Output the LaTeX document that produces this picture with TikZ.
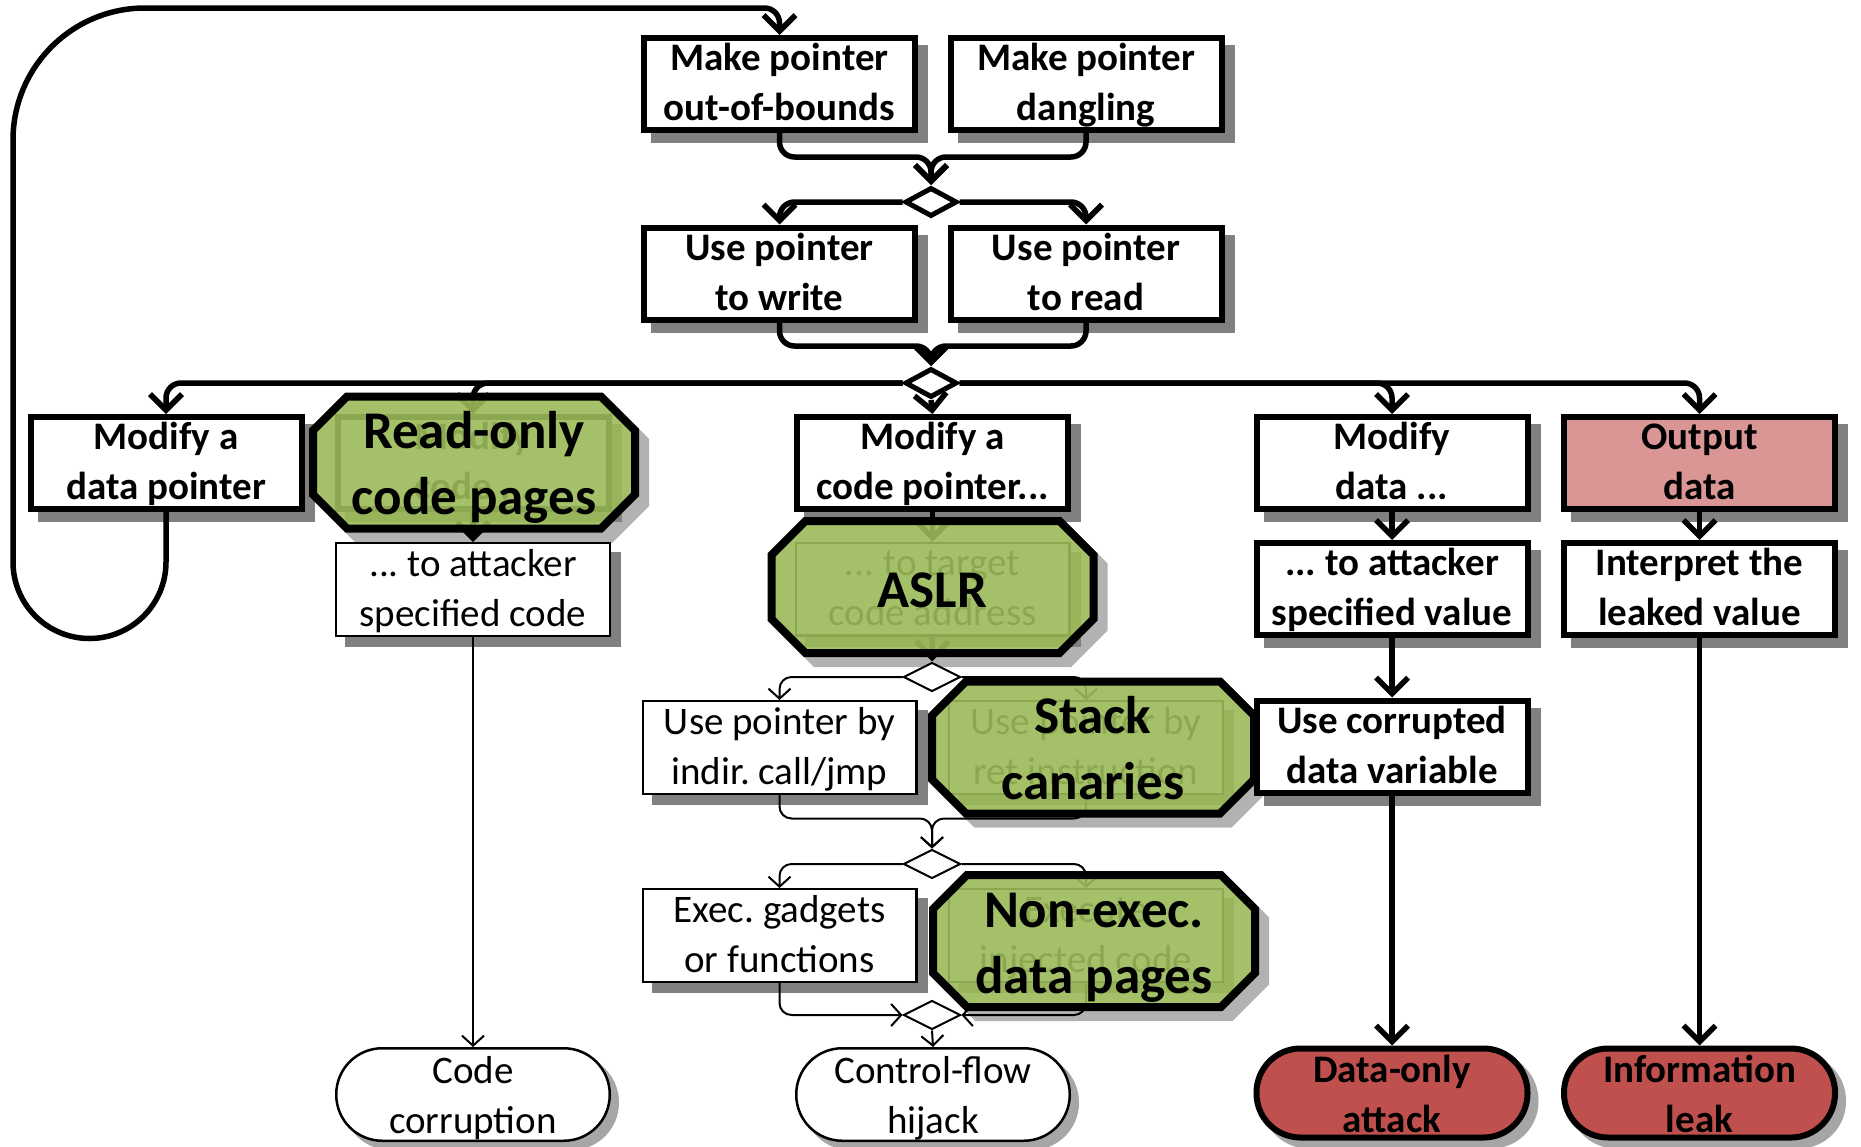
\documentclass[tikz,border=0pt]{standalone}
\usepackage{fontspec}
\setmainfont{Carlito}
\frenchspacing
\usetikzlibrary{arrows.meta,shapes.geometric}

\definecolor{octgreen}{HTML}{9BBB59}
\definecolor{leakred}{HTML}{C0504D}
\definecolor{outpink}{HTML}{D99694}
\definecolor{shadowgray}{HTML}{808080}

\tikzset{
  boxfont/.style={font=\bfseries\fontsize{19.5}{25}\selectfont},
  thinfont/.style={font=\fontsize{19.5}{25}\selectfont},
  boxshadow/.style={preaction={draw=shadowgray,fill=shadowgray,transform canvas={xshift=5pt,yshift=-5pt}}},
  softshadow/.style={preaction={draw=black!35,fill=black!35,transform canvas={xshift=4pt,yshift=-4pt}}},
  stepbox/.style={draw,line width=3pt,fill=white,minimum width=135.5pt,minimum height=46pt,
    inner sep=0pt,align=center,boxfont,boxshadow,text height=40pt,text depth=3.2pt},
  thinbox/.style={draw,line width=1.2pt,fill=white,minimum width=136.8pt,minimum height=46.3pt,
    inner sep=0pt,align=center,thinfont,boxshadow,text height=40pt,text depth=3.2pt},
  endbox/.style={draw,rounded corners=23pt,line width=1.25pt,fill=white,minimum width=136.75pt,
    minimum height=46.25pt,inner sep=0pt,align=center,thinfont,softshadow,
    text height=42.5pt,text depth=3.3pt},
  attackend/.style={endbox,line width=3pt,fill=leakred,boxfont,rounded corners=22pt,
    minimum width=135.5pt,minimum height=44.5pt,text height=41.5pt,text depth=2.5pt},
  junction/.style={diamond,draw,line width=2.5pt,fill=white,minimum width=26pt,minimum height=14.5pt,inner sep=0pt},
  thinjunction/.style={junction,line width=1pt,minimum width=28.5pt,minimum height=14.5pt},
  guardtext/.style={font=\bfseries\fontsize{26.5}{33}\selectfont,align=center,inner sep=0pt,
    text height=56pt,text depth=4pt},
  tarrow/.style={line width=2.75pt,rounded corners=7.5pt,-{Straight Barb[length=8pt,width=16pt]}},
  sarrow/.style={line width=1pt,rounded corners=6pt,-{Straight Barb[length=5pt,width=11pt]}},
  octpath/.style={insert path={(-127,-66) -- (127,-66) -- (161,-32) -- (161,32) -- (127,66) -- (-127,66) -- (-161,32) -- (-161,-32) -- cycle}},
  pics/guardbase/.style={code={
    \path[xshift=5pt,yshift=-5pt,fill=black!30,draw=black!30,line width=4pt,octpath];
    \path[fill=white,octpath];
  }},
  pics/guardtop/.style={code={
    \path[draw=black,line width=4pt,fill=octgreen,fill opacity=0.9,octpath];
  }},
}

\begin{document}
\begin{tikzpicture}[x=0.5pt,y=-0.5pt]
\useasboundingbox (0,0) rectangle (1861,1146);

% white ground under the protection octagons
\pic at (474,462.5) {guardbase};
\pic at (932.5,587) {guardbase};
\pic at (1093,747.5) {guardbase};
\pic at (1094,941) {guardbase};

% attack steps
\node[stepbox] (oob) at (779.5,84) {Make pointer\\out-of-bounds};
\node[stepbox] (dang) at (1086,84) {Make pointer\\dangling};
\node[junction] (d1) at (931,202) {};
\node[stepbox] (write) at (779.5,273.5) {Use pointer\\to write};
\node[stepbox] (read) at (1086,273.5) {Use pointer\\to read};
\node[junction] (d2) at (931,383) {};
\node[stepbox] (dptr) at (166,463) {Modify a\\data pointer};
\node[stepbox] (mcode) at (473,463) {Modify\\code ...};
\node[stepbox] (cptr) at (932.5,463) {Modify a\\code pointer...};
\node[stepbox] (mdata) at (1392,463) {Modify\\data ...};
\node[stepbox,fill=outpink] (out) at (1699.5,463) {Output\\data};
\node[thinbox] (tocode) at (473,589.5) {... to attacker\\specified code};
\node[thinbox] (totarget) at (932.5,589) {... to target\\code address};
\node[stepbox] (toval) at (1392,589) {... to attacker\\specified value};
\node[stepbox] (interp) at (1699.5,589) {Interpret the\\leaked value};
\node[thinjunction] (d3) at (932,677) {};
\node[thinbox] (indir) at (779.5,747.5) {Use pointer by\\indir. call/jmp};
\node[thinbox] (ret) at (1086,747.5) {Use pointer by\\ret instruction};
\node[thinjunction] (d4) at (932,864) {};
\node[thinbox] (gadget) at (779.5,935.5) {Exec. gadgets\\or functions};
\node[thinbox] (inject) at (1086,935.5) {Execute\\injected code};
\node[thinjunction] (d5) at (932,1015) {};
\node[endbox] (codecorr) at (473,1094.5) {Code\\corruption};
\node[endbox] (cfh) at (933,1094.5) {Control-flow\\hijack};
\node[attackend] (dataonly) at (1392,1093) {Data-only\\attack};
\node[attackend] (leak) at (1699.5,1093) {Information\\leak};

% connectors that run beneath the protections
\draw[tarrow] (d2.west) -| (mcode.north);
\draw[tarrow] (mcode.south) -- (tocode.north);
\draw[tarrow] (cptr.south) -- (totarget.north);
\draw[tarrow] (totarget.south) -- (d3.north);
\draw[sarrow] (d3.east) -| (ret.north);
\draw[sarrow] (ret.south) |- ([yshift=15pt]d4.north) -- (d4.north);
\draw[sarrow] (d4.east) -| (inject.north);
\draw[sarrow] (inject.south) |- (d5.east);

% protections
\pic at (474,462.5) {guardtop};
\pic at (932.5,587) {guardtop};
\pic at (1093,747.5) {guardtop};
\pic at (1094,941) {guardtop};
\node[guardtext] (ro) at (474,462.5) {Read-only\\code pages};
\node[guardtext,text height=24pt,text depth=3.4pt] (aslr) at (932.5,587) {ASLR};
\node[guardtext] (canary) at (1093,747.5) {Stack\\canaries};
\node[guardtext] (nonexec) at (1094,941) {Non-exec.\\data pages};

\node[stepbox] (corrupt) at (1392,746.5) {Use corrupted\\data variable};

% visible connectors
\draw[tarrow] (oob.south) |- ([yshift=14pt]d1.north) -- (d1.north);
\draw[tarrow] (dang.south) |- ([yshift=14pt]d1.north) -- (d1.north);
\draw[tarrow] (d1.west) -| (write.north);
\draw[tarrow] (d1.east) -| (read.north);
\draw[tarrow] (write.south) |- ([yshift=10pt]d2.north) -- (d2.north);
\draw[tarrow] (read.south) |- ([yshift=10pt]d2.north) -- (d2.north);
\draw[tarrow] (d2.west) -| (dptr.north);
\draw[tarrow] (d2.south) -- (cptr.north);
\draw[tarrow] (d2.east) -| (mdata.north);
\draw[tarrow] (d2.east) -| (out.north);
\draw[tarrow,sharp corners] (dptr.south) -- (166,562)
  .. controls (166,604.25) and (131.75,638.5) .. (89.5,638.5)
  .. controls (47.25,638.5) and (13,604.25) .. (13,562)
  -- (13,140)
  .. controls (13,67.1) and (72.1,8) .. (145,8)
  -- (764.5,8)
  .. controls (772.8,8) and (779.5,14.7) .. (779.5,23)
  -- (oob.north);
\draw[sarrow] (tocode.south) -- (codecorr.north);
\draw[sarrow] (d3.west) -| (indir.north);
\draw[sarrow] (indir.south) |- ([yshift=15pt]d4.north) -- (d4.north);
\draw[sarrow] (d4.west) -| (gadget.north);
\draw[sarrow] (gadget.south) |- (d5.west);
\draw[sarrow] (d5.south) -- (cfh.north);
\draw[tarrow] (mdata.south) -- (toval.north);
\draw[tarrow] (toval.south) -- (corrupt.north);
\draw[tarrow] (corrupt.south) -- (dataonly.north);
\draw[tarrow] (out.south) -- (interp.north);
\draw[tarrow] (interp.south) -- (leak.north);
\end{tikzpicture}
\end{document}
